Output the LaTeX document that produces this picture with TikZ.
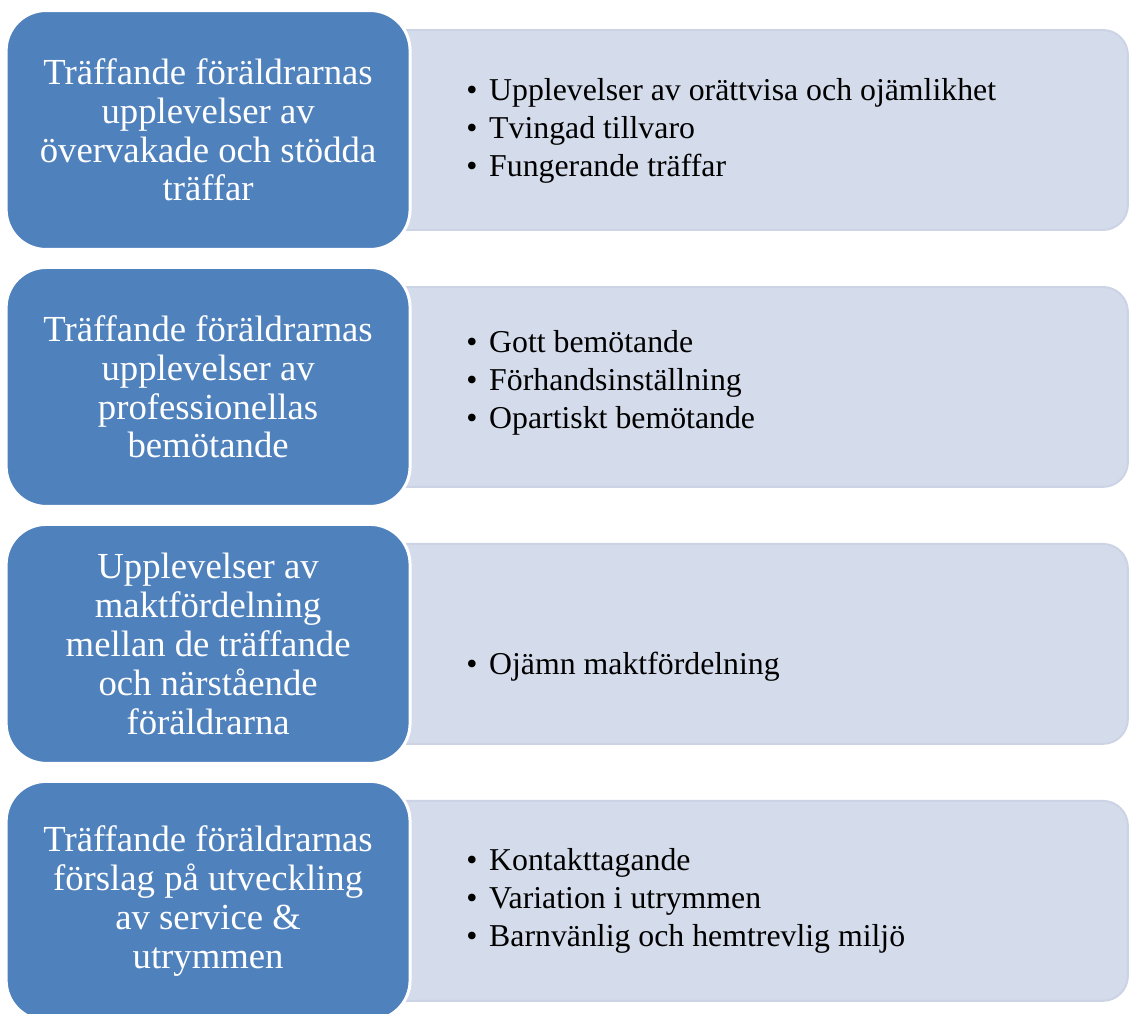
\documentclass[tikz,border=0pt]{standalone}
\usepackage{fontspec}
\setmainfont{Liberation Serif}
\usepackage{tikz}
\usetikzlibrary{positioning}

\definecolor{themeblue}{RGB}{79,129,189}
\definecolor{subfill}{RGB}{212,219,234}
\definecolor{subline}{RGB}{203,211,228}

\newcommand{\itm}{\makebox[13pt][l]{\textbullet}}

\begin{document}
\begin{tikzpicture}[x=0.02cm,y=-0.02cm,node distance=5.14cm]
		\tikzstyle{theme}=[rectangle,rounded corners=0.8cm,fill=themeblue,draw=white,
			line width=1.7pt,minimum width=8.08cm,minimum height=4.78cm,
			text=white,align=center,font=\fontsize{20.9}{22.1}\selectfont]
		\tikzstyle{sub}=[rectangle,rounded corners=0.5cm,fill=subfill,draw=subline,
			line width=1.1pt,minimum width=14.96cm,minimum height=4cm]
		\tikzstyle{items}=[anchor=west,align=left,inner sep=0pt,
			font=\fontsize{18.1}{21.5}\selectfont]
		
		\useasboundingbox (0,0) rectangle (1130,1014);
		
		\node[sub] (S1) at (754,130) {};
		\node[sub] (S2) [below of=S1] {};
		\node[sub] (S3) [below of=S2] {};
		\node[sub] (S4) [below of=S3] {};
		
		\node[theme] (T1) [left of=S1,node distance=10.92cm] {Träffande föräldrarnas\\upplevelser av\\övervakade och stödda\\träffar};
		\node[theme] (T2) [left of=S2,node distance=10.92cm] {Träffande föräldrarnas\\upplevelser av\\professionellas\\bemötande};
		\node[theme] (T3) [left of=S3,node distance=10.92cm] {Upplevelser av\\maktfördelning\\mellan de träffande\\och närstående\\föräldrarna};
		\node[theme] (T4) [left of=S4,node distance=10.92cm] {Träffande föräldrarnas\\förslag på utveckling\\av service \&\\utrymmen};
		
		\node[items] (B1) at (466,131) {\itm Upplevelser av orättvisa och ojämlikhet\\\itm Tvingad tillvaro\\\itm Fungerande träffar};
		\node[items] (B2) at (466,383) {\itm Gott bemötande\\\itm Förhandsinställning\\\itm Opartiskt bemötande};
		\node[items] (B3) at (466,667) {\itm Ojämn maktfördelning};
		\node[items] (B4) at (466,901) {\itm Kontakttagande\\\itm Variation i utrymmen\\\itm Barnvänlig och hemtrevlig miljö};
		\end{tikzpicture}
\end{document}
